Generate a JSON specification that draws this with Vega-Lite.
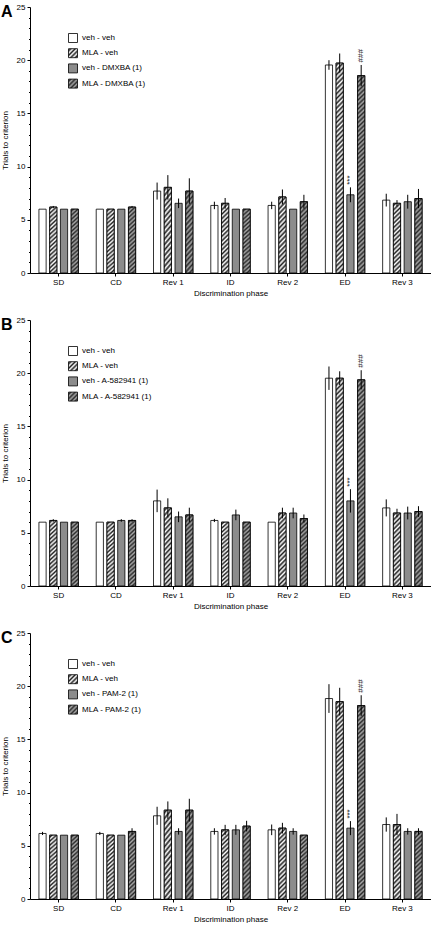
{
"$schema": "https://vega.github.io/schema/vega-lite/v6.json",
"padding": {"left": 1, "top": 3, "right": 0, "bottom": 0},
"spacing": 19,
"params": [
  {"name": "hws", "value": {"gradient": "linear", "x1": 0, "y1": 0, "x2": 0.109, "y2": 1.089, "stops": [
      {"offset":0,"color":"#fff"},{"offset":0.029,"color":"#222"},{"offset":0.058,"color":"#fff"},{"offset":0.087,"color":"#222"},{"offset":0.116,"color":"#fff"},{"offset":0.145,"color":"#222"},{"offset":0.174,"color":"#fff"},{"offset":0.203,"color":"#222"},{"offset":0.232,"color":"#fff"},{"offset":0.261,"color":"#222"},{"offset":0.29,"color":"#fff"},{"offset":0.319,"color":"#222"},{"offset":0.348,"color":"#fff"},{"offset":0.377,"color":"#222"},{"offset":0.406,"color":"#fff"},{"offset":0.435,"color":"#222"},{"offset":0.464,"color":"#fff"},{"offset":0.493,"color":"#222"},{"offset":0.522,"color":"#fff"},{"offset":0.551,"color":"#222"},{"offset":0.58,"color":"#fff"},{"offset":0.609,"color":"#222"},{"offset":0.638,"color":"#fff"},{"offset":0.667,"color":"#222"},{"offset":0.696,"color":"#fff"},{"offset":0.725,"color":"#222"},{"offset":0.754,"color":"#fff"},{"offset":0.783,"color":"#222"},{"offset":0.812,"color":"#fff"},{"offset":0.841,"color":"#222"},{"offset":0.87,"color":"#fff"},{"offset":0.899,"color":"#222"},{"offset":0.928,"color":"#fff"},{"offset":0.957,"color":"#222"},{"offset":0.986,"color":"#fff"},{"offset":1,"color":"#fff"}]}},
  {"name": "hgs", "value": {"gradient": "linear", "x1": 0, "y1": 0, "x2": 0.109, "y2": 1.089, "stops": [
      {"offset":0,"color":"#a6a6a6"},{"offset":0.029,"color":"#2b2b2b"},{"offset":0.058,"color":"#a6a6a6"},{"offset":0.087,"color":"#2b2b2b"},{"offset":0.116,"color":"#a6a6a6"},{"offset":0.145,"color":"#2b2b2b"},{"offset":0.174,"color":"#a6a6a6"},{"offset":0.203,"color":"#2b2b2b"},{"offset":0.232,"color":"#a6a6a6"},{"offset":0.261,"color":"#2b2b2b"},{"offset":0.29,"color":"#a6a6a6"},{"offset":0.319,"color":"#2b2b2b"},{"offset":0.348,"color":"#a6a6a6"},{"offset":0.377,"color":"#2b2b2b"},{"offset":0.406,"color":"#a6a6a6"},{"offset":0.435,"color":"#2b2b2b"},{"offset":0.464,"color":"#a6a6a6"},{"offset":0.493,"color":"#2b2b2b"},{"offset":0.522,"color":"#a6a6a6"},{"offset":0.551,"color":"#2b2b2b"},{"offset":0.58,"color":"#a6a6a6"},{"offset":0.609,"color":"#2b2b2b"},{"offset":0.638,"color":"#a6a6a6"},{"offset":0.667,"color":"#2b2b2b"},{"offset":0.696,"color":"#a6a6a6"},{"offset":0.725,"color":"#2b2b2b"},{"offset":0.754,"color":"#a6a6a6"},{"offset":0.783,"color":"#2b2b2b"},{"offset":0.812,"color":"#a6a6a6"},{"offset":0.841,"color":"#2b2b2b"},{"offset":0.87,"color":"#a6a6a6"},{"offset":0.899,"color":"#2b2b2b"},{"offset":0.928,"color":"#a6a6a6"},{"offset":0.957,"color":"#2b2b2b"},{"offset":0.986,"color":"#a6a6a6"},{"offset":1,"color":"#a6a6a6"}]}},
  {"name": "hwt", "value": {"gradient": "linear", "x1": 0, "y1": 0, "x2": 0.0363, "y2": 1.034, "stops": [
      {"offset":0,"color":"#fff"},{"offset":0.011,"color":"#222"},{"offset":0.022,"color":"#fff"},{"offset":0.033,"color":"#222"},{"offset":0.044,"color":"#fff"},{"offset":0.055,"color":"#222"},{"offset":0.066,"color":"#fff"},{"offset":0.077,"color":"#222"},{"offset":0.088,"color":"#fff"},{"offset":0.099,"color":"#222"},{"offset":0.11,"color":"#fff"},{"offset":0.121,"color":"#222"},{"offset":0.132,"color":"#fff"},{"offset":0.143,"color":"#222"},{"offset":0.154,"color":"#fff"},{"offset":0.165,"color":"#222"},{"offset":0.176,"color":"#fff"},{"offset":0.187,"color":"#222"},{"offset":0.198,"color":"#fff"},{"offset":0.209,"color":"#222"},{"offset":0.22,"color":"#fff"},{"offset":0.231,"color":"#222"},{"offset":0.242,"color":"#fff"},{"offset":0.253,"color":"#222"},{"offset":0.264,"color":"#fff"},{"offset":0.275,"color":"#222"},{"offset":0.286,"color":"#fff"},{"offset":0.297,"color":"#222"},{"offset":0.308,"color":"#fff"},{"offset":0.319,"color":"#222"},{"offset":0.33,"color":"#fff"},{"offset":0.341,"color":"#222"},{"offset":0.352,"color":"#fff"},{"offset":0.363,"color":"#222"},{"offset":0.374,"color":"#fff"},{"offset":0.385,"color":"#222"},{"offset":0.396,"color":"#fff"},{"offset":0.407,"color":"#222"},{"offset":0.418,"color":"#fff"},{"offset":0.429,"color":"#222"},{"offset":0.44,"color":"#fff"},{"offset":0.451,"color":"#222"},{"offset":0.462,"color":"#fff"},{"offset":0.473,"color":"#222"},{"offset":0.484,"color":"#fff"},{"offset":0.495,"color":"#222"},{"offset":0.506,"color":"#fff"},{"offset":0.517,"color":"#222"},{"offset":0.528,"color":"#fff"},{"offset":0.539,"color":"#222"},{"offset":0.55,"color":"#fff"},{"offset":0.561,"color":"#222"},{"offset":0.572,"color":"#fff"},{"offset":0.583,"color":"#222"},{"offset":0.594,"color":"#fff"},{"offset":0.605,"color":"#222"},{"offset":0.616,"color":"#fff"},{"offset":0.627,"color":"#222"},{"offset":0.638,"color":"#fff"},{"offset":0.649,"color":"#222"},{"offset":0.66,"color":"#fff"},{"offset":0.671,"color":"#222"},{"offset":0.682,"color":"#fff"},{"offset":0.693,"color":"#222"},{"offset":0.704,"color":"#fff"},{"offset":0.715,"color":"#222"},{"offset":0.726,"color":"#fff"},{"offset":0.737,"color":"#222"},{"offset":0.748,"color":"#fff"},{"offset":0.759,"color":"#222"},{"offset":0.77,"color":"#fff"},{"offset":0.781,"color":"#222"},{"offset":0.792,"color":"#fff"},{"offset":0.803,"color":"#222"},{"offset":0.814,"color":"#fff"},{"offset":0.825,"color":"#222"},{"offset":0.836,"color":"#fff"},{"offset":0.847,"color":"#222"},{"offset":0.858,"color":"#fff"},{"offset":0.869,"color":"#222"},{"offset":0.88,"color":"#fff"},{"offset":0.891,"color":"#222"},{"offset":0.902,"color":"#fff"},{"offset":0.913,"color":"#222"},{"offset":0.924,"color":"#fff"},{"offset":0.935,"color":"#222"},{"offset":0.946,"color":"#fff"},{"offset":0.957,"color":"#222"},{"offset":0.968,"color":"#fff"},{"offset":0.979,"color":"#222"},{"offset":0.99,"color":"#fff"},{"offset":1,"color":"#fff"}]}},
  {"name": "hgt", "value": {"gradient": "linear", "x1": 0, "y1": 0, "x2": 0.0363, "y2": 1.034, "stops": [
      {"offset":0,"color":"#a6a6a6"},{"offset":0.011,"color":"#2b2b2b"},{"offset":0.022,"color":"#a6a6a6"},{"offset":0.033,"color":"#2b2b2b"},{"offset":0.044,"color":"#a6a6a6"},{"offset":0.055,"color":"#2b2b2b"},{"offset":0.066,"color":"#a6a6a6"},{"offset":0.077,"color":"#2b2b2b"},{"offset":0.088,"color":"#a6a6a6"},{"offset":0.099,"color":"#2b2b2b"},{"offset":0.11,"color":"#a6a6a6"},{"offset":0.121,"color":"#2b2b2b"},{"offset":0.132,"color":"#a6a6a6"},{"offset":0.143,"color":"#2b2b2b"},{"offset":0.154,"color":"#a6a6a6"},{"offset":0.165,"color":"#2b2b2b"},{"offset":0.176,"color":"#a6a6a6"},{"offset":0.187,"color":"#2b2b2b"},{"offset":0.198,"color":"#a6a6a6"},{"offset":0.209,"color":"#2b2b2b"},{"offset":0.22,"color":"#a6a6a6"},{"offset":0.231,"color":"#2b2b2b"},{"offset":0.242,"color":"#a6a6a6"},{"offset":0.253,"color":"#2b2b2b"},{"offset":0.264,"color":"#a6a6a6"},{"offset":0.275,"color":"#2b2b2b"},{"offset":0.286,"color":"#a6a6a6"},{"offset":0.297,"color":"#2b2b2b"},{"offset":0.308,"color":"#a6a6a6"},{"offset":0.319,"color":"#2b2b2b"},{"offset":0.33,"color":"#a6a6a6"},{"offset":0.341,"color":"#2b2b2b"},{"offset":0.352,"color":"#a6a6a6"},{"offset":0.363,"color":"#2b2b2b"},{"offset":0.374,"color":"#a6a6a6"},{"offset":0.385,"color":"#2b2b2b"},{"offset":0.396,"color":"#a6a6a6"},{"offset":0.407,"color":"#2b2b2b"},{"offset":0.418,"color":"#a6a6a6"},{"offset":0.429,"color":"#2b2b2b"},{"offset":0.44,"color":"#a6a6a6"},{"offset":0.451,"color":"#2b2b2b"},{"offset":0.462,"color":"#a6a6a6"},{"offset":0.473,"color":"#2b2b2b"},{"offset":0.484,"color":"#a6a6a6"},{"offset":0.495,"color":"#2b2b2b"},{"offset":0.506,"color":"#a6a6a6"},{"offset":0.517,"color":"#2b2b2b"},{"offset":0.528,"color":"#a6a6a6"},{"offset":0.539,"color":"#2b2b2b"},{"offset":0.55,"color":"#a6a6a6"},{"offset":0.561,"color":"#2b2b2b"},{"offset":0.572,"color":"#a6a6a6"},{"offset":0.583,"color":"#2b2b2b"},{"offset":0.594,"color":"#a6a6a6"},{"offset":0.605,"color":"#2b2b2b"},{"offset":0.616,"color":"#a6a6a6"},{"offset":0.627,"color":"#2b2b2b"},{"offset":0.638,"color":"#a6a6a6"},{"offset":0.649,"color":"#2b2b2b"},{"offset":0.66,"color":"#a6a6a6"},{"offset":0.671,"color":"#2b2b2b"},{"offset":0.682,"color":"#a6a6a6"},{"offset":0.693,"color":"#2b2b2b"},{"offset":0.704,"color":"#a6a6a6"},{"offset":0.715,"color":"#2b2b2b"},{"offset":0.726,"color":"#a6a6a6"},{"offset":0.737,"color":"#2b2b2b"},{"offset":0.748,"color":"#a6a6a6"},{"offset":0.759,"color":"#2b2b2b"},{"offset":0.77,"color":"#a6a6a6"},{"offset":0.781,"color":"#2b2b2b"},{"offset":0.792,"color":"#a6a6a6"},{"offset":0.803,"color":"#2b2b2b"},{"offset":0.814,"color":"#a6a6a6"},{"offset":0.825,"color":"#2b2b2b"},{"offset":0.836,"color":"#a6a6a6"},{"offset":0.847,"color":"#2b2b2b"},{"offset":0.858,"color":"#a6a6a6"},{"offset":0.869,"color":"#2b2b2b"},{"offset":0.88,"color":"#a6a6a6"},{"offset":0.891,"color":"#2b2b2b"},{"offset":0.902,"color":"#a6a6a6"},{"offset":0.913,"color":"#2b2b2b"},{"offset":0.924,"color":"#a6a6a6"},{"offset":0.935,"color":"#2b2b2b"},{"offset":0.946,"color":"#a6a6a6"},{"offset":0.957,"color":"#2b2b2b"},{"offset":0.968,"color":"#a6a6a6"},{"offset":0.979,"color":"#2b2b2b"},{"offset":0.99,"color":"#a6a6a6"},{"offset":1,"color":"#a6a6a6"}]}},
  {"name": "lgw", "value": {"gradient": "linear", "x1": 0, "y1": 0, "x2": 1, "y2": 1, "stops": [{"offset":0,"color":"#fff"},{"offset":0.125,"color":"#222"},{"offset":0.25,"color":"#fff"},{"offset":0.375,"color":"#222"},{"offset":0.5,"color":"#fff"},{"offset":0.625,"color":"#222"},{"offset":0.75,"color":"#fff"},{"offset":0.875,"color":"#222"},{"offset":1,"color":"#fff"}]}},
  {"name": "lgg", "value": {"gradient": "linear", "x1": 0, "y1": 0, "x2": 1, "y2": 1, "stops": [{"offset":0,"color":"#a6a6a6"},{"offset":0.125,"color":"#2b2b2b"},{"offset":0.25,"color":"#a6a6a6"},{"offset":0.375,"color":"#2b2b2b"},{"offset":0.5,"color":"#a6a6a6"},{"offset":0.625,"color":"#2b2b2b"},{"offset":0.75,"color":"#a6a6a6"},{"offset":0.875,"color":"#2b2b2b"},{"offset":1,"color":"#a6a6a6"}]}}
],
"config": {
  "font": "Liberation Sans",
  "view": {"stroke": null},
  "axis": {"labelFontSize": 8, "titleFontSize": 8, "titleFontWeight": "normal", "labelColor": "black", "titleColor": "black", "domainColor": "black", "tickColor": "black", "grid": false, "domainWidth": 1, "tickWidth": 1},
  "axisX": {"labelAngle": 0, "tickSize": 3, "labelPadding": 2, "titlePadding": 3},
  "axisY": {"labelPadding": 2, "titlePadding": 7},
  "legend": {"symbolType": "square", "symbolSize": 81, "labelFontSize": 8, "labelFontWeight": "normal", "labelColor": "black", "labelOffset": 4, "rowPadding": 1.2, "symbolStrokeWidth": 0.8, "symbolStrokeColor": "black"},
  "title": {"fontSize": 16, "fontWeight": "bold", "anchor": "start", "frame": "bounds", "offset": -17, "color": "black"}
},
"resolve": {"scale": {"fill": "independent"}, "legend": {"fill": "independent"}},
"data": {"values": [
{"p":"A","ph":"SD","gi":0,"g":"veh - veh","v":6,"lo":6,"hi":6},
{"p":"A","ph":"SD","gi":1,"g":"MLA - veh","v":6.2,"lo":6.1,"hi":6.3},
{"p":"A","ph":"SD","gi":2,"g":"veh - DMXBA (1)","v":6,"lo":6,"hi":6},
{"p":"A","ph":"SD","gi":3,"g":"MLA - DMXBA (1)","v":6,"lo":6,"hi":6},
{"p":"A","ph":"CD","gi":0,"g":"veh - veh","v":6,"lo":6,"hi":6},
{"p":"A","ph":"CD","gi":1,"g":"MLA - veh","v":6,"lo":6,"hi":6},
{"p":"A","ph":"CD","gi":2,"g":"veh - DMXBA (1)","v":6,"lo":6,"hi":6},
{"p":"A","ph":"CD","gi":3,"g":"MLA - DMXBA (1)","v":6.2,"lo":6.1,"hi":6.3},
{"p":"A","ph":"Rev 1","gi":0,"g":"veh - veh","v":7.7,"lo":6.9,"hi":8.5},
{"p":"A","ph":"Rev 1","gi":1,"g":"MLA - veh","v":8.05,"lo":6.9,"hi":9.2},
{"p":"A","ph":"Rev 1","gi":2,"g":"veh - DMXBA (1)","v":6.55,"lo":6.1,"hi":7.0},
{"p":"A","ph":"Rev 1","gi":3,"g":"MLA - DMXBA (1)","v":7.7,"lo":6.5,"hi":8.9},
{"p":"A","ph":"ID","gi":0,"g":"veh - veh","v":6.35,"lo":6.0,"hi":6.7},
{"p":"A","ph":"ID","gi":1,"g":"MLA - veh","v":6.55,"lo":6.05,"hi":7.05},
{"p":"A","ph":"ID","gi":2,"g":"veh - DMXBA (1)","v":6,"lo":6,"hi":6},
{"p":"A","ph":"ID","gi":3,"g":"MLA - DMXBA (1)","v":6,"lo":6,"hi":6},
{"p":"A","ph":"Rev 2","gi":0,"g":"veh - veh","v":6.35,"lo":6.0,"hi":6.7},
{"p":"A","ph":"Rev 2","gi":1,"g":"MLA - veh","v":7.15,"lo":6.45,"hi":7.85},
{"p":"A","ph":"Rev 2","gi":2,"g":"veh - DMXBA (1)","v":6,"lo":6,"hi":6},
{"p":"A","ph":"Rev 2","gi":3,"g":"MLA - DMXBA (1)","v":6.7,"lo":6.05,"hi":7.35},
{"p":"A","ph":"ED","gi":0,"g":"veh - veh","v":19.55,"lo":19.1,"hi":20.0},
{"p":"A","ph":"ED","gi":1,"g":"MLA - veh","v":19.73,"lo":18.83,"hi":20.63},
{"p":"A","ph":"ED","gi":2,"g":"veh - DMXBA (1)","v":7.35,"lo":6.65,"hi":8.05,"ann":"***"},
{"p":"A","ph":"ED","gi":3,"g":"MLA - DMXBA (1)","v":18.55,"lo":17.55,"hi":19.55,"ann":"###"},
{"p":"A","ph":"Rev 3","gi":0,"g":"veh - veh","v":6.85,"lo":6.25,"hi":7.45},
{"p":"A","ph":"Rev 3","gi":1,"g":"MLA - veh","v":6.55,"lo":6.25,"hi":6.85},
{"p":"A","ph":"Rev 3","gi":2,"g":"veh - DMXBA (1)","v":6.7,"lo":6.05,"hi":7.35},
{"p":"A","ph":"Rev 3","gi":3,"g":"MLA - DMXBA (1)","v":7.0,"lo":6.1,"hi":7.9},
{"p":"B","ph":"SD","gi":0,"g":"veh - veh","v":6,"lo":6,"hi":6},
{"p":"B","ph":"SD","gi":1,"g":"MLA - veh","v":6.16,"lo":6.04,"hi":6.28},
{"p":"B","ph":"SD","gi":2,"g":"veh - A-582941 (1)","v":6,"lo":6,"hi":6},
{"p":"B","ph":"SD","gi":3,"g":"MLA - A-582941 (1)","v":6,"lo":6,"hi":6},
{"p":"B","ph":"CD","gi":0,"g":"veh - veh","v":6,"lo":6,"hi":6},
{"p":"B","ph":"CD","gi":1,"g":"MLA - veh","v":6,"lo":6,"hi":6},
{"p":"B","ph":"CD","gi":2,"g":"veh - A-582941 (1)","v":6.16,"lo":6.04,"hi":6.28},
{"p":"B","ph":"CD","gi":3,"g":"MLA - A-582941 (1)","v":6.16,"lo":6.04,"hi":6.28},
{"p":"B","ph":"Rev 1","gi":0,"g":"veh - veh","v":8.0,"lo":6.94,"hi":9.06},
{"p":"B","ph":"Rev 1","gi":1,"g":"MLA - veh","v":7.34,"lo":6.44,"hi":8.24},
{"p":"B","ph":"Rev 1","gi":2,"g":"veh - A-582941 (1)","v":6.5,"lo":6.0,"hi":7.0},
{"p":"B","ph":"Rev 1","gi":3,"g":"MLA - A-582941 (1)","v":6.68,"lo":6.0,"hi":7.36},
{"p":"B","ph":"ID","gi":0,"g":"veh - veh","v":6.16,"lo":6.01,"hi":6.31},
{"p":"B","ph":"ID","gi":1,"g":"MLA - veh","v":6,"lo":6,"hi":6},
{"p":"B","ph":"ID","gi":2,"g":"veh - A-582941 (1)","v":6.68,"lo":6.18,"hi":7.18},
{"p":"B","ph":"ID","gi":3,"g":"MLA - A-582941 (1)","v":6,"lo":6,"hi":6},
{"p":"B","ph":"Rev 2","gi":0,"g":"veh - veh","v":6,"lo":6,"hi":6},
{"p":"B","ph":"Rev 2","gi":1,"g":"MLA - veh","v":6.86,"lo":6.36,"hi":7.36},
{"p":"B","ph":"Rev 2","gi":2,"g":"veh - A-582941 (1)","v":6.86,"lo":6.36,"hi":7.36},
{"p":"B","ph":"Rev 2","gi":3,"g":"MLA - A-582941 (1)","v":6.34,"lo":5.96,"hi":6.72},
{"p":"B","ph":"ED","gi":0,"g":"veh - veh","v":19.53,"lo":18.43,"hi":20.63},
{"p":"B","ph":"ED","gi":1,"g":"MLA - veh","v":19.53,"lo":18.88,"hi":20.18},
{"p":"B","ph":"ED","gi":2,"g":"veh - A-582941 (1)","v":8.0,"lo":6.9,"hi":9.1,"ann":"***"},
{"p":"B","ph":"ED","gi":3,"g":"MLA - A-582941 (1)","v":19.38,"lo":18.48,"hi":20.28,"ann":"###"},
{"p":"B","ph":"Rev 3","gi":0,"g":"veh - veh","v":7.34,"lo":6.54,"hi":8.14},
{"p":"B","ph":"Rev 3","gi":1,"g":"MLA - veh","v":6.86,"lo":6.46,"hi":7.26},
{"p":"B","ph":"Rev 3","gi":2,"g":"veh - A-582941 (1)","v":6.86,"lo":6.26,"hi":7.46},
{"p":"B","ph":"Rev 3","gi":3,"g":"MLA - A-582941 (1)","v":7.0,"lo":6.5,"hi":7.5},
{"p":"C","ph":"SD","gi":0,"g":"veh - veh","v":6.16,"lo":6.01,"hi":6.31},
{"p":"C","ph":"SD","gi":1,"g":"MLA  - veh","v":6,"lo":6,"hi":6},
{"p":"C","ph":"SD","gi":2,"g":"veh - PAM-2 (1)","v":6,"lo":6,"hi":6},
{"p":"C","ph":"SD","gi":3,"g":"MLA - PAM-2 (1)","v":6,"lo":6,"hi":6},
{"p":"C","ph":"CD","gi":0,"g":"veh - veh","v":6.16,"lo":6.01,"hi":6.31},
{"p":"C","ph":"CD","gi":1,"g":"MLA  - veh","v":6,"lo":6,"hi":6},
{"p":"C","ph":"CD","gi":2,"g":"veh - PAM-2 (1)","v":6,"lo":6,"hi":6},
{"p":"C","ph":"CD","gi":3,"g":"MLA - PAM-2 (1)","v":6.35,"lo":6.05,"hi":6.65},
{"p":"C","ph":"Rev 1","gi":0,"g":"veh - veh","v":7.82,"lo":6.97,"hi":8.67},
{"p":"C","ph":"Rev 1","gi":1,"g":"MLA  - veh","v":8.35,"lo":7.53,"hi":9.17},
{"p":"C","ph":"Rev 1","gi":2,"g":"veh - PAM-2 (1)","v":6.35,"lo":6.05,"hi":6.65},
{"p":"C","ph":"Rev 1","gi":3,"g":"MLA - PAM-2 (1)","v":8.35,"lo":7.28,"hi":9.42},
{"p":"C","ph":"ID","gi":0,"g":"veh - veh","v":6.35,"lo":6.05,"hi":6.65},
{"p":"C","ph":"ID","gi":1,"g":"MLA  - veh","v":6.5,"lo":6.03,"hi":6.97},
{"p":"C","ph":"ID","gi":2,"g":"veh - PAM-2 (1)","v":6.5,"lo":6.03,"hi":6.97},
{"p":"C","ph":"ID","gi":3,"g":"MLA - PAM-2 (1)","v":6.85,"lo":6.35,"hi":7.35},
{"p":"C","ph":"Rev 2","gi":0,"g":"veh - veh","v":6.5,"lo":6.0,"hi":7.0},
{"p":"C","ph":"Rev 2","gi":1,"g":"MLA  - veh","v":6.66,"lo":6.16,"hi":7.16},
{"p":"C","ph":"Rev 2","gi":2,"g":"veh - PAM-2 (1)","v":6.35,"lo":6.05,"hi":6.65},
{"p":"C","ph":"Rev 2","gi":3,"g":"MLA - PAM-2 (1)","v":6,"lo":6,"hi":6},
{"p":"C","ph":"ED","gi":0,"g":"veh - veh","v":18.84,"lo":17.49,"hi":20.19},
{"p":"C","ph":"ED","gi":1,"g":"MLA  - veh","v":18.55,"lo":17.25,"hi":19.85},
{"p":"C","ph":"ED","gi":2,"g":"veh - PAM-2 (1)","v":6.66,"lo":6.0,"hi":7.32,"ann":"***"},
{"p":"C","ph":"ED","gi":3,"g":"MLA - PAM-2 (1)","v":18.18,"lo":17.21,"hi":19.15,"ann":"###"},
{"p":"C","ph":"Rev 3","gi":0,"g":"veh - veh","v":7.0,"lo":6.33,"hi":7.67},
{"p":"C","ph":"Rev 3","gi":1,"g":"MLA  - veh","v":7.0,"lo":6.0,"hi":8.0},
{"p":"C","ph":"Rev 3","gi":2,"g":"veh - PAM-2 (1)","v":6.35,"lo":6.05,"hi":6.65},
{"p":"C","ph":"Rev 3","gi":3,"g":"MLA - PAM-2 (1)","v":6.35,"lo":6.05,"hi":6.65}
]},
"vconcat": [
{
  "width": 401, "height": 266, "title": "A",
  "transform": [{"filter": "datum.p === 'A'"}],
  "encoding": {
    "x": {"field": "ph", "type": "nominal", "sort": ["SD","CD","Rev 1","ID","Rev 2","ED","Rev 3"], "scale": {"paddingInner": 0.25, "paddingOuter": 0.125}, "title": "Discrimination phase"},
    "xOffset": {"field": "gi", "type": "nominal", "scale": {"domain": [0,1,2,3], "paddingInner": 0.33, "paddingOuter": 0.165}},
    "y": {"field": "v", "type": "quantitative", "title": "Trials to criterion", "scale": {"domain": [0,25], "nice": false}, "axis": {"values": [0,1,2,3,4,5,6,7,8,9,10,11,12,13,14,15,16,17,18,19,20,21,22,23,24,25], "labelExpr": "datum.value % 5 === 0 ? datum.label : ''", "tickSize": {"condition": {"test": "datum.value % 5 === 0", "value": 3}, "value": 1.5}, "labelOverlap": false}}
  },
  "layer": [
    {"mark": {"type": "bar", "stroke": "black", "strokeWidth": 0.8},
     "encoding": {"fill": {"field": "g", "type": "nominal", "sort": {"field": "gi", "op": "min"}, "scale": {"range": ["#ffffff", {"expr": "lgw"}, "#8c8c8c", {"expr": "lgg"}]},
       "legend": {"title": null, "orient": "none", "legendX": 38, "legendY": 26, "encode": {"symbols": {"update": {"stroke": {"value": "black"}, "strokeWidth": {"value": 0.8}}}}}}}},
    {"transform": [{"filter": "datum.gi === 1 && datum.v < 12"}], "mark": {"type": "bar", "fill": {"expr": "hws"}, "stroke": "black", "strokeWidth": 0.8}},
    {"transform": [{"filter": "datum.gi === 1 && datum.v >= 12"}], "mark": {"type": "bar", "fill": {"expr": "hwt"}, "stroke": "black", "strokeWidth": 0.8}},
    {"transform": [{"filter": "datum.gi === 3 && datum.v < 12"}], "mark": {"type": "bar", "fill": {"expr": "hgs"}, "stroke": "black", "strokeWidth": 0.8}},
    {"transform": [{"filter": "datum.gi === 3 && datum.v >= 12"}], "mark": {"type": "bar", "fill": {"expr": "hgt"}, "stroke": "black", "strokeWidth": 0.8}},
    {"mark": {"type": "rule", "color": "black", "strokeWidth": 1}, "encoding": {"y": {"field": "lo", "type": "quantitative", "title": "Trials to criterion"}, "y2": {"field": "hi"}}},
    {"transform": [{"filter": "datum.ann"}], "mark": {"type": "text", "angle": 270, "align": "left", "baseline": "middle", "dx": 2.5, "fontSize": 8, "color": "#111"}, "encoding": {"y": {"field": "hi", "type": "quantitative", "title": "Trials to criterion"}, "text": {"field": "ann"}}}
  ]
},
{
  "width": 401, "height": 266, "title": "B",
  "transform": [{"filter": "datum.p === 'B'"}],
  "encoding": {
    "x": {"field": "ph", "type": "nominal", "sort": ["SD","CD","Rev 1","ID","Rev 2","ED","Rev 3"], "scale": {"paddingInner": 0.25, "paddingOuter": 0.125}, "title": "Discrimination phase"},
    "xOffset": {"field": "gi", "type": "nominal", "scale": {"domain": [0,1,2,3], "paddingInner": 0.33, "paddingOuter": 0.165}},
    "y": {"field": "v", "type": "quantitative", "title": "Trials to criterion", "scale": {"domain": [0,25], "nice": false}, "axis": {"values": [0,1,2,3,4,5,6,7,8,9,10,11,12,13,14,15,16,17,18,19,20,21,22,23,24,25], "labelExpr": "datum.value % 5 === 0 ? datum.label : ''", "tickSize": {"condition": {"test": "datum.value % 5 === 0", "value": 3}, "value": 1.5}, "labelOverlap": false}}
  },
  "layer": [
    {"mark": {"type": "bar", "stroke": "black", "strokeWidth": 0.8},
     "encoding": {"fill": {"field": "g", "type": "nominal", "sort": {"field": "gi", "op": "min"}, "scale": {"range": ["#ffffff", {"expr": "lgw"}, "#8c8c8c", {"expr": "lgg"}]},
       "legend": {"title": null, "orient": "none", "legendX": 38, "legendY": 26, "encode": {"symbols": {"update": {"stroke": {"value": "black"}, "strokeWidth": {"value": 0.8}}}}}}}},
    {"transform": [{"filter": "datum.gi === 1 && datum.v < 12"}], "mark": {"type": "bar", "fill": {"expr": "hws"}, "stroke": "black", "strokeWidth": 0.8}},
    {"transform": [{"filter": "datum.gi === 1 && datum.v >= 12"}], "mark": {"type": "bar", "fill": {"expr": "hwt"}, "stroke": "black", "strokeWidth": 0.8}},
    {"transform": [{"filter": "datum.gi === 3 && datum.v < 12"}], "mark": {"type": "bar", "fill": {"expr": "hgs"}, "stroke": "black", "strokeWidth": 0.8}},
    {"transform": [{"filter": "datum.gi === 3 && datum.v >= 12"}], "mark": {"type": "bar", "fill": {"expr": "hgt"}, "stroke": "black", "strokeWidth": 0.8}},
    {"mark": {"type": "rule", "color": "black", "strokeWidth": 1}, "encoding": {"y": {"field": "lo", "type": "quantitative", "title": "Trials to criterion"}, "y2": {"field": "hi"}}},
    {"transform": [{"filter": "datum.ann"}], "mark": {"type": "text", "angle": 270, "align": "left", "baseline": "middle", "dx": 2.5, "fontSize": 8, "color": "#111"}, "encoding": {"y": {"field": "hi", "type": "quantitative", "title": "Trials to criterion"}, "text": {"field": "ann"}}}
  ]
},
{
  "width": 401, "height": 266, "title": "C",
  "transform": [{"filter": "datum.p === 'C'"}],
  "encoding": {
    "x": {"field": "ph", "type": "nominal", "sort": ["SD","CD","Rev 1","ID","Rev 2","ED","Rev 3"], "scale": {"paddingInner": 0.25, "paddingOuter": 0.125}, "title": "Discrimination phase"},
    "xOffset": {"field": "gi", "type": "nominal", "scale": {"domain": [0,1,2,3], "paddingInner": 0.33, "paddingOuter": 0.165}},
    "y": {"field": "v", "type": "quantitative", "title": "Trials to criterion", "scale": {"domain": [0,25], "nice": false}, "axis": {"values": [0,1,2,3,4,5,6,7,8,9,10,11,12,13,14,15,16,17,18,19,20,21,22,23,24,25], "labelExpr": "datum.value % 5 === 0 ? datum.label : ''", "tickSize": {"condition": {"test": "datum.value % 5 === 0", "value": 3}, "value": 1.5}, "labelOverlap": false}}
  },
  "layer": [
    {"mark": {"type": "bar", "stroke": "black", "strokeWidth": 0.8},
     "encoding": {"fill": {"field": "g", "type": "nominal", "sort": {"field": "gi", "op": "min"}, "scale": {"range": ["#ffffff", {"expr": "lgw"}, "#8c8c8c", {"expr": "lgg"}]},
       "legend": {"title": null, "orient": "none", "legendX": 38, "legendY": 26, "encode": {"symbols": {"update": {"stroke": {"value": "black"}, "strokeWidth": {"value": 0.8}}}}}}}},
    {"transform": [{"filter": "datum.gi === 1 && datum.v < 12"}], "mark": {"type": "bar", "fill": {"expr": "hws"}, "stroke": "black", "strokeWidth": 0.8}},
    {"transform": [{"filter": "datum.gi === 1 && datum.v >= 12"}], "mark": {"type": "bar", "fill": {"expr": "hwt"}, "stroke": "black", "strokeWidth": 0.8}},
    {"transform": [{"filter": "datum.gi === 3 && datum.v < 12"}], "mark": {"type": "bar", "fill": {"expr": "hgs"}, "stroke": "black", "strokeWidth": 0.8}},
    {"transform": [{"filter": "datum.gi === 3 && datum.v >= 12"}], "mark": {"type": "bar", "fill": {"expr": "hgt"}, "stroke": "black", "strokeWidth": 0.8}},
    {"mark": {"type": "rule", "color": "black", "strokeWidth": 1}, "encoding": {"y": {"field": "lo", "type": "quantitative", "title": "Trials to criterion"}, "y2": {"field": "hi"}}},
    {"transform": [{"filter": "datum.ann"}], "mark": {"type": "text", "angle": 270, "align": "left", "baseline": "middle", "dx": 2.5, "fontSize": 8, "color": "#111"}, "encoding": {"y": {"field": "hi", "type": "quantitative", "title": "Trials to criterion"}, "text": {"field": "ann"}}}
  ]
}
]
}
